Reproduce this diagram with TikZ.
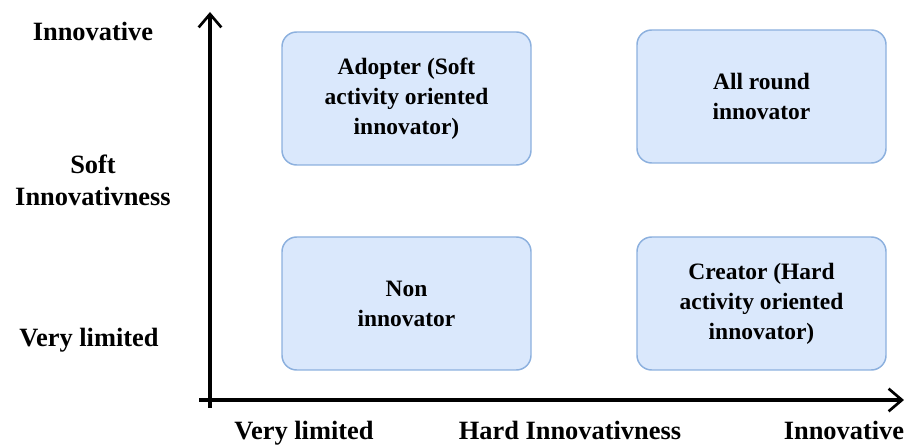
\documentclass[tikz,border=0pt]{standalone}
\usepackage{fontspec}
\setmainfont{Liberation Serif}
\usetikzlibrary{arrows.meta}
\definecolor{boxfill}{HTML}{DAE8FC}
\definecolor{boxline}{HTML}{8CB0DE}
\begin{document}
\begin{tikzpicture}[x=0.75pt,y=-0.75pt,
  lbl/.style={font=\fontsize{19.8pt}{24pt}\selectfont\bfseries, align=center, inner sep=0pt},
  quad/.style={draw=boxline, fill=boxfill, line width=1.1pt, rounded corners=11pt,
    minimum width=249*0.75pt, minimum height=133*0.75pt, align=center, inner sep=0pt,
    font=\fontsize{17.6pt}{22.5pt}\selectfont\bfseries},
  axis/.style={line width=3pt, -{Straight Barb[length=10pt,width=17pt,line width=2pt]}}]
\useasboundingbox (0,0) rectangle (904,445);

% quadrants
\node[quad] (adopter) at (406.5,98.5) {Adopter (Soft\\activity oriented\\innovator)};
\node[quad] (allround) at (761.5,96.5) {All round\\innovator};
\node[quad] (non) at (406.5,303.5) {Non\\innovator};
\node[quad] (creator) at (761.5,303.5) {Creator (Hard\\activity oriented\\innovator)};

% axes
\coordinate (ybottom) at (210,408);
\coordinate (ytop) at (210,12);
\coordinate (xleft) at (199,400);
\coordinate (xright) at (904,400);
\draw[axis] (ybottom) -- (ytop);
\draw[axis] (xleft) -- (xright);

% vertical axis labels
\node[lbl] (yhigh) at (93,31) {Innovative};
\node[lbl] (yname) at (93,180) {Soft\\Innovativness};
\node[lbl] (ylow) at (89,340) {Very limited};

% horizontal axis labels
\node[lbl, anchor=base] (xlow) at (304,440) {Very limited};
\node[lbl, anchor=base] (xname) at (570,440) {Hard Innovativness};
\node[lbl, anchor=base] (xhigh) at (844,440) {Innovative};
\end{tikzpicture}
\end{document}
